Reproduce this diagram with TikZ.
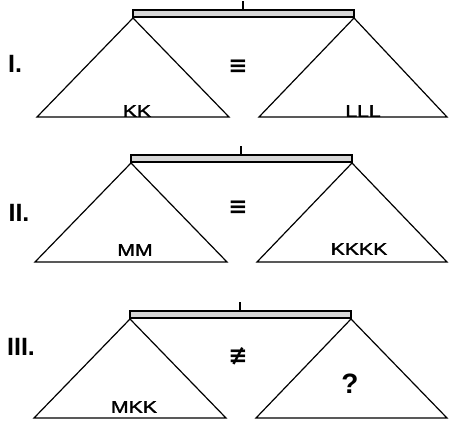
\documentclass[tikz,border=0pt]{standalone}
\usepackage{fontspec}
\setmainfont{Liberation Sans}
\newfontfamily\panfont{Liberation Sans}[FakeBold=1.5]
\newfontfamily\symfont{DejaVu Sans}
\definecolor{beamgray}{HTML}{D6D6D6}
\newcommand\widetxt[1]{\scalebox{1.25}[1]{#1}}

\begin{document}
\begin{tikzpicture}[x=1pt,y=-1pt,line width=1.2pt,
  pan/.style={font=\panfont\fontsize{17}{17}\selectfont,inner sep=0pt},
  num/.style={font=\fontsize{25}{25}\selectfont\bfseries,inner sep=0pt},
  rel/.style={font=\symfont\bfseries\fontsize{23}{23}\selectfont,inner sep=0pt}]
  \useasboundingbox (0,0) rectangle (449,425);
  % the three balances
  \foreach \t/\a in {10/133, 155/131, 311/130}{
    \filldraw[fill=beamgray,line width=1.3pt] (\a,\t) rectangle ++(221,7);
    \draw (\a+110,\t) -- ++(0,-9);
    \draw (\a,\t+8) -- (\a-96,\t+107) -- (\a+96,\t+107) -- cycle;
    \draw (\a+221,\t+8) -- (\a+126,\t+107) -- (447,\t+107) -- cycle;
  }
  \node[num] (numI) at (15,64) {I.};
  \node[num] (numII) at (19,213) {II.};
  \node[num] (numIII) at (21,347) {III.};
  \node[rel] (relI) at (238,67) {≡};
  \node[rel] (relII) at (238,208) {≡};
  \node[rel] (relIII) at (238,356) {≢};
  \node[pan] (leftI) at (137,111) {\widetxt{KK}};
  \node[pan] (rightI) at (363,111) {\widetxt{LLL}};
  \node[pan] (leftII) at (135,250) {\widetxt{MM}};
  \node[pan] (rightII) at (359,249) {\widetxt{KKKK}};
  \node[pan] (leftIII) at (134,407) {\widetxt{MKK}};
  \node[pan,font=\fontsize{28}{28}\selectfont\bfseries] (rightIII) at (350,384) {?};
\end{tikzpicture}
\end{document}
